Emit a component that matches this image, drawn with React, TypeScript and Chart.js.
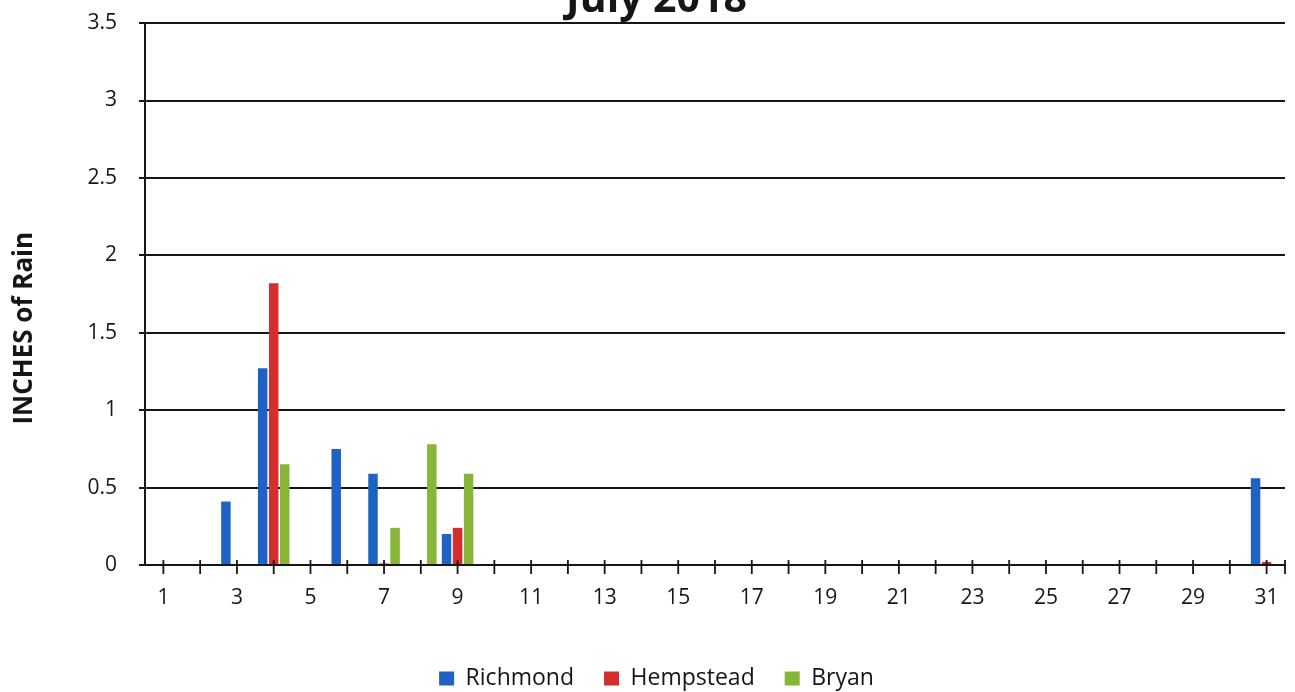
import React, { useEffect, useRef } from "react";
import { Chart, registerables } from "chart.js";

Chart.register(...registerables);

// Days of July 2018
const days: string[] = [
  "1", "2", "3", "4", "5", "6", "7", "8", "9", "10",
  "11", "12", "13", "14", "15", "16", "17", "18", "19", "20",
  "21", "22", "23", "24", "25", "26", "27", "28", "29", "30", "31",
];

// Daily rainfall (inches) per station
const richmond: number[] = [
  0, 0, 0.41, 1.27, 0, 0.75, 0.59, 0, 0.2, 0,
  0, 0, 0, 0, 0, 0, 0, 0, 0, 0,
  0, 0, 0, 0, 0, 0, 0, 0, 0, 0, 0.56,
];
const hempstead: number[] = [
  0, 0, 0, 1.82, 0, 0, 0.01, 0, 0.24, 0,
  0, 0, 0, 0, 0, 0, 0, 0, 0, 0,
  0, 0, 0, 0, 0, 0, 0, 0, 0, 0, 0.02,
];
const bryan: number[] = [
  0, 0, 0, 0.65, 0, 0, 0.24, 0.78, 0.59, 0,
  0, 0, 0, 0, 0, 0, 0, 0, 0, 0,
  0, 0, 0, 0, 0, 0, 0, 0, 0, 0, 0,
];

const seriesNames = ["Richmond", "Hempstead", "Bryan"];
const seriesColors = ["#1f62c6", "#d42e2e", "#86b53a"];

const chartTitle = "July 2018";
const yAxisTitle = "INCHES of Rain";

const FONT = "'Open Sans', 'Liberation Sans', sans-serif";
const INK = "#161616";

// Cross-shaped tick marks on the category axis, one per day plus the axis end
const crossTicks = {
  id: "crossTicks",
  afterDatasetsDraw(chart: any) {
    const x = chart.scales.x;
    const { ctx, chartArea } = chart;
    const y0 = chartArea.bottom;
    ctx.save();
    ctx.strokeStyle = INK;
    ctx.lineWidth = 1.8;
    const xs: number[] = x.ticks.map((_: any, i: number) => x.getPixelForTick(i));
    xs.push(chartArea.right);
    ctx.beginPath();
    xs.forEach((px) => {
      ctx.moveTo(px, y0 - 5);
      ctx.lineTo(px, y0 + 9);
    });
    ctx.stroke();
    ctx.restore();
  },
};

// Rotated value-axis caption
const valueCaption = {
  id: "valueCaption",
  afterDraw(chart: any) {
    const { ctx, chartArea } = chart;
    const cy = chartArea.top + (chartArea.bottom - chartArea.top) * 0.563;
    ctx.save();
    ctx.translate(25, cy);
    ctx.rotate(-Math.PI / 2);
    ctx.font = `bold 26px ${FONT}`;
    ctx.fillStyle = INK;
    ctx.textAlign = "center";
    ctx.textBaseline = "middle";
    ctx.fillText(yAxisTitle, 0, 0);
    ctx.restore();
  },
};

export default function App() {
  const canvasRef = useRef<HTMLCanvasElement | null>(null);

  useEffect(() => {
    if (!canvasRef.current) return;
    const values = [richmond, hempstead, bryan];
    const chart = new Chart(canvasRef.current, {
      type: "bar",
      data: {
        labels: days,
        datasets: values.map((v, i) => ({
          label: seriesNames[i],
          data: v,
          backgroundColor: seriesColors[i],
          borderWidth: 0,
          categoryPercentage: 0.9,
          barPercentage: 0.86,
        })),
      },
      options: {
        animation: false,
        responsive: false,
        maintainAspectRatio: false,
        layout: { padding: { left: 28, right: 10, top: 0, bottom: 0 } },
        plugins: {
          title: {
            display: true,
            text: chartTitle,
            color: INK,
            font: { family: FONT, size: 41, weight: "bold", lineHeight: 1.1 },
            padding: { top: 8, bottom: 0 },
          },
          legend: {
            position: "bottom",
            labels: {
              color: INK,
              font: { family: FONT, size: 23 },
              boxWidth: 15,
              boxHeight: 14,
              padding: 30,
            },
          },
          tooltip: { enabled: false },
        },
        scales: {
          x: {
            grid: { display: false },
            border: { display: true, color: INK, width: 2 },
            ticks: {
              autoSkip: false,
              maxRotation: 0,
              color: INK,
              padding: 12,
              font: { family: FONT, size: 21 },
              callback: (_v: any, i: number) => (i % 2 === 0 ? days[i] : ""),
            },
            afterFit: (s: any) => {
              s.height = 72;
            },
          },
          y: {
            min: 0,
            max: 3.5,
            ticks: {
              stepSize: 0.5,
              color: INK,
              padding: 22,
              font: { family: FONT, size: 21 },
              callback: (v: any) => String(Number(v)),
            },
            grid: { color: INK, lineWidth: 2, tickLength: 6 },
            border: { display: true, color: INK, width: 2 },
            afterFit: (s: any) => {
              s.width = 117;
            },
          },
        },
      },
      plugins: [crossTicks, valueCaption],
    });
    return () => chart.destroy();
  }, []);

  return (
    <div
      style={{
        position: "absolute",
        left: 0,
        top: -30,
        width: 1295,
        height: 730,
        background: "#fff",
      }}
    >
      <canvas ref={canvasRef} width={1295} height={730} />
    </div>
  );
}
